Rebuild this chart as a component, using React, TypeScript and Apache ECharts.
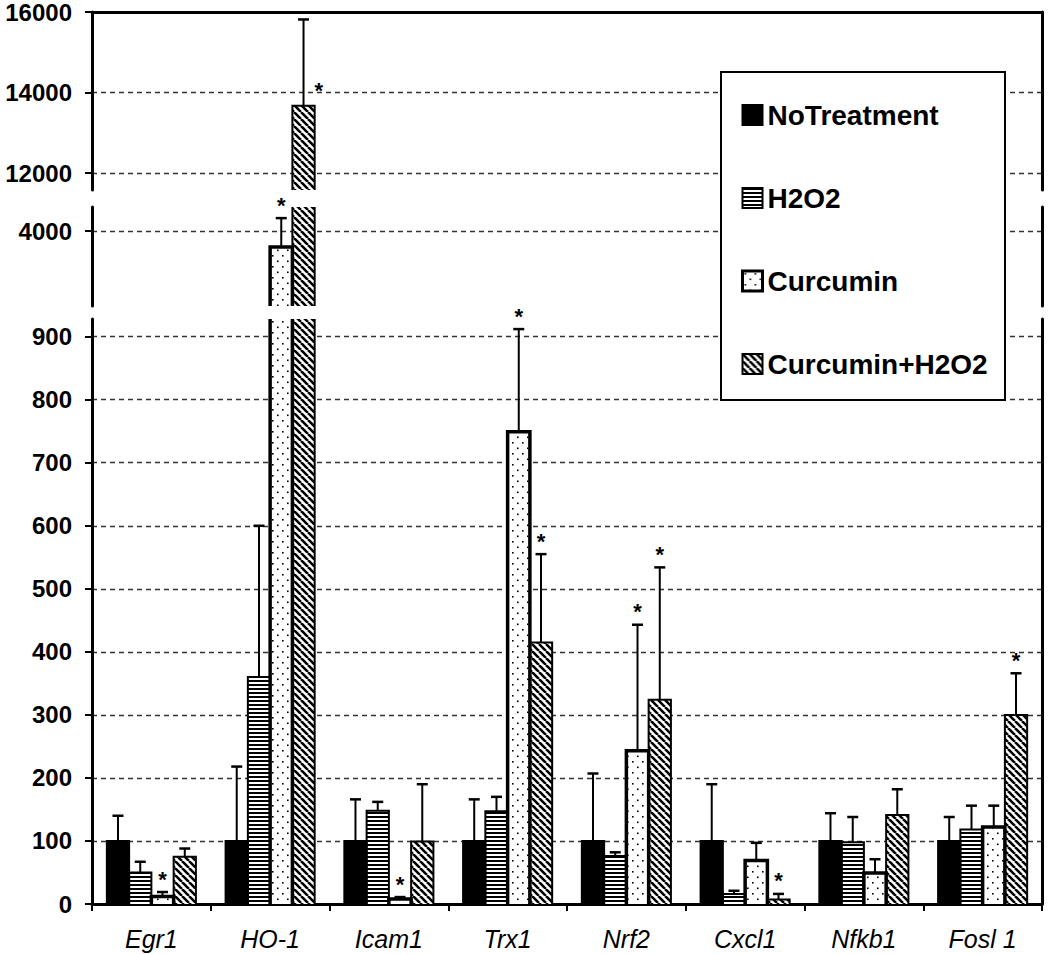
import React, { useEffect, useRef } from 'react';
import * as echarts from 'echarts';

const categories = ['Egr1', 'HO-1', 'Icam1', 'Trx1', 'Nrf2', 'Cxcl1', 'Nfkb1', 'Fosl 1'];
const seriesNames = ['NoTreatment', 'H2O2', 'Curcumin', 'Curcumin+H2O2'];

const noTreatment = [100, 100, 100, 100, 100, 100, 100, 100];
const noTreatmentSD = [40, 118, 66, 66, 107, 90, 44, 38];
const h2o2 = [50, 360, 148, 147, 76, 16, 98, 118];
const h2o2SD = [17, 240, 14, 23, 6, 5, 40, 38];
const curcumin = [12, 3600, 8, 749, 243, 69, 49, 122];
const curcuminSD = [7, 720, 3, 163, 200, 28, 22, 34];
const curcuminH2o2 = [75, 13670, 99, 415, 324, 7, 141, 300];
const curcuminH2o2SD = [13, 2145, 91, 140, 210, 9, 41, 66];

const noTreatmentSig = [0, 0, 0, 0, 0, 0, 0, 0];
const h2o2Sig = [0, 0, 0, 0, 0, 0, 0, 0];
const curcuminSig = [1, 1, 1, 1, 1, 0, 0, 0];
const curcuminH2o2Sig = [0, 1, 0, 1, 1, 1, 0, 1];

const topTicks = [12000, 14000, 16000];
const midTicks = [4000];
const bottomTicks = [0, 100, 200, 300, 400, 500, 600, 700, 800, 900];
const topRange = [11580, 16000];
const midRange = [2138, 4596];
const bottomRange = [0, 928];

const FONT = '"Liberation Sans", Arial, sans-serif';

function makeCanvas(w: number, h: number, draw: (ctx: CanvasRenderingContext2D) => void) {
  const c = document.createElement('canvas');
  c.width = w;
  c.height = h;
  const ctx = c.getContext('2d')!;
  ctx.fillStyle = '#fff';
  ctx.fillRect(0, 0, w, h);
  draw(ctx);
  return c;
}

export default function App() {
  const ref = useRef<HTMLDivElement>(null);
  useEffect(() => {
    const chart = echarts.init(ref.current!, null, { renderer: 'svg' });

    const stripes = makeCanvas(4, 4, (ctx) => {
      ctx.fillStyle = '#000';
      ctx.fillRect(0, 0, 4, 2);
    });
    const dots = makeCanvas(10, 11, (ctx) => {
      ctx.fillStyle = '#000';
      ctx.fillRect(2, 2, 1.6, 1.6);
      ctx.fillRect(7, 7.5, 1.6, 1.6);
    });
    const diag = makeCanvas(7, 7, (ctx) => {
      ctx.strokeStyle = '#000';
      ctx.lineWidth = 2.6;
      ctx.beginPath();
      for (const k of [-7, 0, 7]) {
        ctx.moveTo(k, 0);
        ctx.lineTo(k + 7, 7);
      }
      ctx.stroke();
    });

    const fills: any[] = [
      '#000',
      { image: stripes, repeat: 'repeat' },
      { image: dots, repeat: 'repeat' },
      { image: diag, repeat: 'repeat' },
    ];
    const borderWidths = [2, 2, 3.5, 2];
    const values = [noTreatment, h2o2, curcumin, curcuminH2o2];
    const sds = [noTreatmentSD, h2o2SD, curcuminSD, curcuminH2o2SD];
    const sigs = [noTreatmentSig, h2o2Sig, curcuminSig, curcuminH2o2Sig];

    const overlayData: number[][] = [];
    for (let t = 0; t < 4; t++) {
      for (let c = 0; c < categories.length; c++) {
        overlayData.push([c, t, values[t][c], sds[t][c], sigs[t][c]]);
      }
    }

    const grids = [
      { left: 92, right: 8, top: 12, height: 178 },
      { left: 92, right: 8, top: 207, height: 99 },
      { left: 92, right: 8, top: 319, height: 585 },
    ];
    const ranges = [topRange, midRange, bottomRange];
    const ticks = [topTicks, midTicks, bottomTicks];

    const xAxes = [
      {
        gridIndex: 0, type: 'category', data: categories, position: 'top',
        axisLine: { show: true, onZero: false, lineStyle: { color: '#000', width: 3 } },
        axisTick: { show: false }, axisLabel: { show: false }, splitLine: { show: false },
      },
      { gridIndex: 1, type: 'category', data: categories, show: false },
      {
        gridIndex: 2, type: 'category', data: categories, position: 'bottom',
        axisLine: { show: true, onZero: false, lineStyle: { color: '#000', width: 3 } },
        axisTick: { show: true, interval: 0, length: 7, lineStyle: { color: '#000', width: 2 } },
        axisLabel: {
          interval: 0, margin: 22, fontSize: 25, fontStyle: 'italic', fontFamily: FONT, color: '#000',
        },
        splitLine: { show: false },
      },
    ];

    const yAxes: any[] = [];
    for (let g = 0; g < 3; g++) {
      yAxes.push({
        gridIndex: g, type: 'value', position: 'left', min: ranges[g][0], max: ranges[g][1],
        axisLine: { show: true, lineStyle: { color: '#000', width: 3 } },
        axisTick: { show: true, length: 7, customValues: ticks[g], lineStyle: { color: '#000', width: 2 } },
        axisLabel: {
          customValues: ticks[g], margin: 20, fontSize: 24, fontWeight: 'bold', fontFamily: FONT, color: '#000',
          formatter: (v: number) => String(Math.round(v)),
        },
        splitLine: { show: true, lineStyle: { type: [5, 4], color: '#333', width: 1.3 } },
      });
    }
    for (let g = 0; g < 3; g++) {
      yAxes.push({
        gridIndex: g, type: 'value', position: 'right', min: ranges[g][0], max: ranges[g][1],
        axisLine: { show: true, lineStyle: { color: '#000', width: 3 } },
        axisTick: { show: false }, axisLabel: { show: false }, splitLine: { show: false },
      });
    }

    const series: any[] = [];
    for (let g = 0; g < 3; g++) {
      for (let t = 0; t < 4; t++) {
        series.push({
          type: 'bar', name: seriesNames[t], xAxisIndex: g, yAxisIndex: g,
          data: values[t], barGap: '0%', barCategoryGap: '25%', clip: true, silent: true,
          itemStyle: { color: fills[t], borderWidth: 0 }, z: 2,
        });
      }
      const gi = g;
      series.push({
        type: 'custom', xAxisIndex: g, yAxisIndex: g, data: overlayData, silent: true, z: 3,
        encode: { x: 0, y: 2 },
        renderItem: (params: any, api: any) => {
          const cat = api.value(0);
          const t = api.value(1);
          const v = api.value(2);
          const sd = api.value(3);
          const sig = api.value(4);
          const cs = params.coordSys;
          const band = cs.width / categories.length;
          const bw = (band * 0.75) / 4;
          const p = api.coord([cat, v]);
          const cx = p[0] + (t - 1.5) * bw;
          const yTop = p[1];
          const yBase = api.coord([cat, 0])[1];
          const top = cs.y;
          const bot = cs.y + cs.height;
          const children: any[] = [];
          if (yTop > bot) return { type: 'group', children };
          const vt = Math.max(yTop, top);
          const vb = Math.min(yBase, bot);
          const x0 = cx - bw / 2;
          const x1 = cx + bw / 2;
          const lw = borderWidths[t];
          const st = { stroke: '#000', fill: 'none', lineWidth: lw };
          if (yTop >= top) {
            children.push({ type: 'polyline', shape: { points: [[x0, vb], [x0, yTop], [x1, yTop], [x1, vb]] }, style: st });
          } else {
            children.push({ type: 'line', shape: { x1: x0, y1: vb, x2: x0, y2: vt }, style: st });
            children.push({ type: 'line', shape: { x1: x1, y1: vb, x2: x1, y2: vt }, style: st });
          }
          const yCap = api.coord([cat, v + sd])[1];
          if (sd > 0 && yCap >= top - 0.5 && yCap <= bot) {
            children.push({ type: 'line', shape: { x1: cx, y1: vt, x2: cx, y2: yCap }, style: { stroke: '#000', lineWidth: 2 } });
            children.push({ type: 'line', shape: { x1: cx - 5.5, y1: yCap, x2: cx + 5.5, y2: yCap }, style: { stroke: '#000', lineWidth: 2.5 } });
            if (sig) {
              let ax = cx;
              let ay = yCap - 13;
              if (gi === 0 && yCap - 20 < top) {
                ax = x1 + 4;
                ay = yTop - 15;
              }
              children.push({
                type: 'text', x: ax, y: ay,
                style: { text: '*', fontSize: 22, fontWeight: 'bold', fontFamily: FONT, fill: '#000', align: 'center', verticalAlign: 'middle' },
              });
            }
          }
          return { type: 'group', children };
        },
      });
    }

    const option: any = {
      animation: false,
      backgroundColor: '#fff',
      grid: grids,
      xAxis: xAxes,
      yAxis: yAxes,
      legend: {
        data: seriesNames.map((n, i) => ({ name: n, icon: 'rect', itemStyle: { borderColor: '#000', borderWidth: i === 2 ? 3 : 2 } })),
        orient: 'vertical', left: 741, top: 101, itemWidth: 20, itemHeight: 20, itemGap: 55,
        padding: 0, z: 20, selectedMode: false,
        textStyle: { fontSize: 28, fontWeight: 'bold', fontFamily: FONT, color: '#000', lineHeight: 28 },
      },
      graphic: [
        {
          type: 'rect', z: 10,
          shape: { x: 721, y: 72, width: 284, height: 328 },
          style: { fill: '#fff', stroke: '#000', lineWidth: 2 },
        },
      ],
      series,
    };
    chart.setOption(option);
    return () => chart.dispose();
  }, []);
  return (
    <div
      ref={ref}
      style={{ position: 'absolute', left: 0, top: 0, width: 1050, height: 954, background: '#fff' }}
    />
  );
}
